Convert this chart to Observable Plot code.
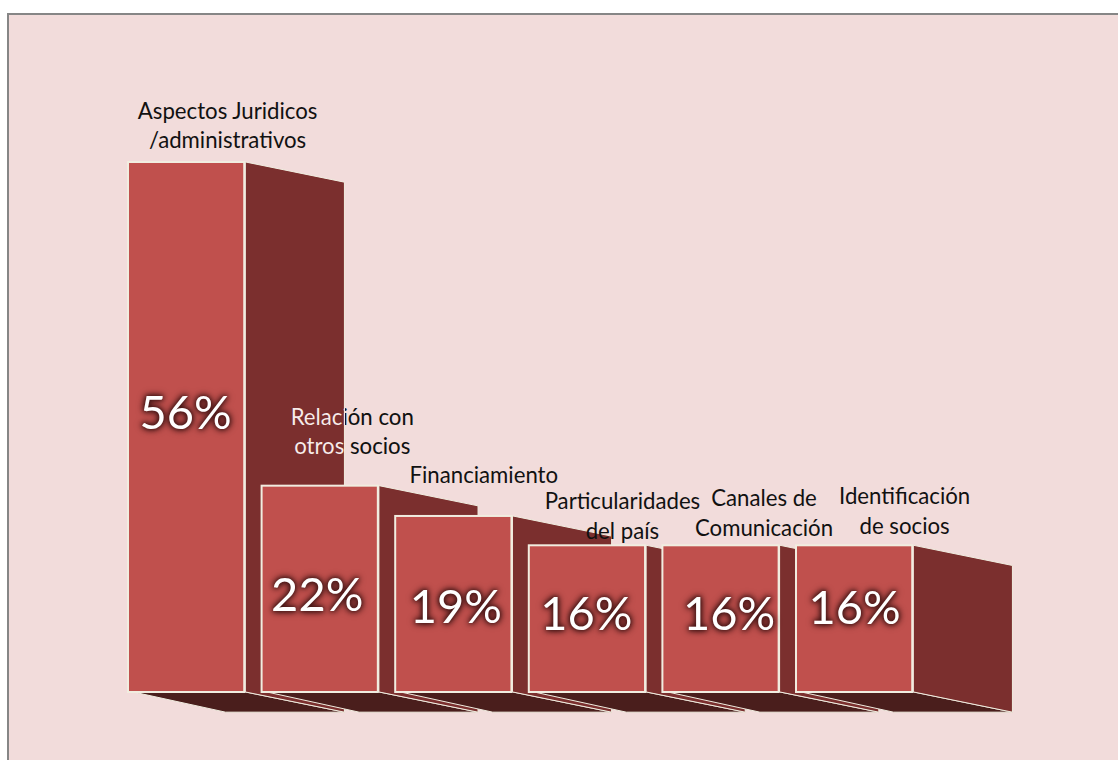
<!DOCTYPE html>
<html>
<head>
<meta charset="utf-8">
<script src="https://cdn.jsdelivr.net/npm/d3@7"></script>
<script src="https://cdn.jsdelivr.net/npm/@observablehq/plot@0.6"></script>
<style>
html,body{margin:0;padding:0;background:#fff;overflow:hidden}
#panel{position:absolute;left:7px;top:13px;width:1111px;height:747px;box-sizing:border-box;background:#f2dcdb;border:solid #868686;border-width:2px 0 0 2px}
#chart{position:absolute;left:0;top:0}
svg{background:transparent!important}
</style>
</head>
<body>
<div id="panel"></div>
<div id="chart"></div>
<script>
// Data
const categories = ["Aspectos Juridicos\n/administrativos","Relación con\notros socios","Financiamiento","Particularidades\ndel país","Canales de\nComunicación","Identificación\nde socios"];
const percentLabels = ["56%","22%","19%","16%","16%","16%"];
const heights = [56, 21.8, 18.6, 15.5, 15.5, 15.5];

// Layout
const barW = 0.87, depthX = 0.75, depthY = 2.13, bottomInset = 0.04;
const catNudge = [[41,-38.5],[32,-56],[30,-43],[35,-31],[43,-34],[50,-36]];
const pctNudge = [[-1,-14],[-3,7],[2,3],[-1,-4],[8,-4],[0,-10]];
const bars = heights.map((h,i)=>({i,h,cat:categories[i],pct:percentLabels[i]}));

const front="#c0504d", side="#7b2f2e", under="#4a1e1c", edge="#f1ede0";

const marks = [];
for (const b of bars) {
  const r = b.i + barW;
  marks.push(Plot.areaX([
    {y:0, x1:b.i+bottomInset, x2:r+0.01},
    {y:-depthY, x1:b.i+depthX-0.02, x2:r+depthX}
  ],{y:"y",x1:"x1",x2:"x2",fill:under,stroke:edge,strokeWidth:1}));
  marks.push(Plot.areaY([
    {x:r+0.01, y1:0, y2:b.h},
    {x:r+depthX, y1:-depthY, y2:b.h-depthY}
  ],{x:"x",y1:"y1",y2:"y2",fill:side,stroke:edge,strokeWidth:1}));
  marks.push(Plot.rect([b],{x1:d=>d.i,x2:d=>d.i+barW,y1:0,y2:d=>d.h,fill:front,stroke:edge,strokeWidth:2}));
}

// two-tone fill for the label crossing the first bar's side face.
// Text elements carry their own translate, so the gradient is in text-local coordinates.
const gradientMark = (index, scales) => {
  const origin = scales.x(1 + barW/2) + catNudge[1][0];
  const local = scales.x(barW + depthX) - origin;
  const s = d3.create("svg:defs");
  const g = s.append("linearGradient").attr("id","splitLabel").attr("gradientUnits","userSpaceOnUse")
    .attr("x1",-1000).attr("x2",1000).attr("y1",0).attr("y2",0);
  const t = (local+1000)/2000;
  g.append("stop").attr("offset",t).attr("stop-color","#f6ecea");
  g.append("stop").attr("offset",t).attr("stop-color","#111");
  return s.node();
};
marks.push(gradientMark);

bars.forEach((b,i)=>{
  marks.push(Plot.text([b],{
    x:d=>d.i+barW/2,y:d=>d.h,text:d=>d.cat,
    dx:catNudge[i][0],dy:catNudge[i][1],
    fontFamily:"Lato",fontSize:22.2,lineHeight:1.33,
    fill:i===1?"url(#splitLabel)":"#111"
  }));
});
bars.forEach((b,i)=>{
  marks.push(Plot.text([b],{
    x:d=>d.i+barW/2,y:d=>d.h/2,text:d=>d.pct,
    dx:pctNudge[i][0],dy:pctNudge[i][1],
    fontFamily:"Lato",fontSize:47,fill:"#fff"
  }));
});

const chart = Plot.plot({
  width:1118,height:760,
  marginTop:0,marginRight:0,marginBottom:0,marginLeft:0,
  x:{domain:[0,6],range:[128,929.6],axis:null},
  y:{domain:[0,56],range:[692,162],axis:null},
  marks
});
d3.select(chart).selectAll("text")
  .filter(function(){return /%$/.test(this.textContent);})
  .style("filter","drop-shadow(0 0 3px #3c1212) drop-shadow(0 0 2px #3c1212)");
document.getElementById("chart").append(chart);
</script>
</body>
</html>
